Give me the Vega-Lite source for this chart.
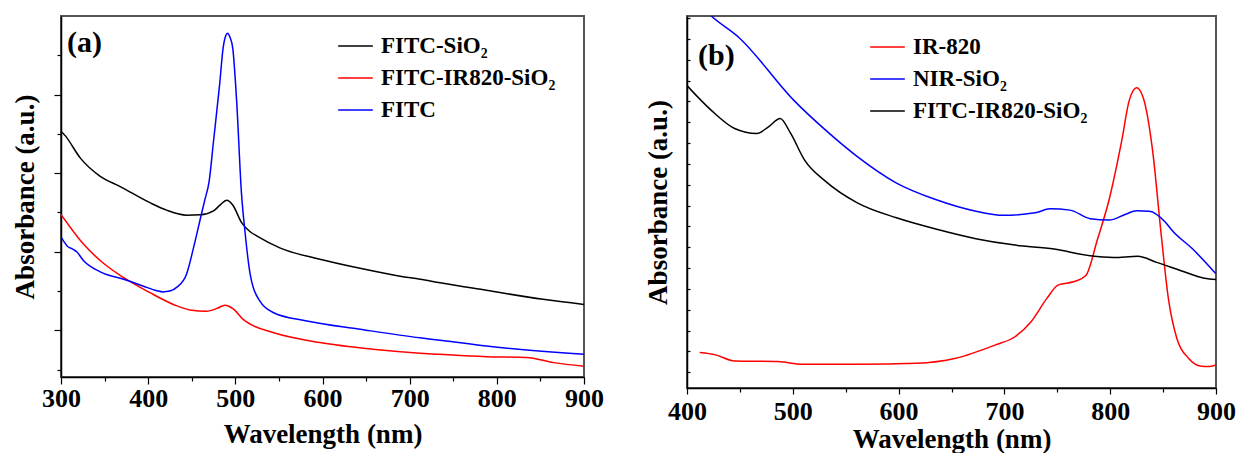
{
  "$schema": "https://vega.github.io/schema/vega-lite/v6.json",
  "background": "white",
  "padding": {"left": 10, "top": 15, "right": 0, "bottom": 0},
  "spacing": 38,
  "config": {
    "font": "Liberation Serif",
    "view": {"stroke": "#555555", "strokeWidth": 2},
    "axis": {
      "grid": false,
      "labelFont": "Liberation Serif", "labelFontWeight": "bold", "labelFontSize": 26, "labelColor": "black",
      "titleFont": "Liberation Serif", "titleFontWeight": "bold", "titleFontSize": 27, "titleColor": "black",
      "domainColor": "black", "domainWidth": 1.5, "tickColor": "black", "tickWidth": 1.2,
      "labelFlush": false, "labelOverlap": false
    },
    "legend": {
      "labelFont": "Liberation Serif", "labelFontWeight": "bold", "labelFontSize": 23, "labelColor": "black",
      "symbolType": "stroke", "symbolSize": 1200, "symbolStrokeWidth": 1.5,
      "clipHeight": 32, "rowPadding": 0, "labelOffset": 7, "padding": 0, "labelLimit": 400
    },
    "title": {"font": "Liberation Serif", "fontWeight": "bold", "fontSize": 30, "color": "black"}
  },
  "datasets": {
    "a": [
      {"wl": 300, "abs": 6.07, "series": "FITC-SiO\u2082"},
      {"wl": 305, "abs": 5.95, "series": "FITC-SiO\u2082"},
      {"wl": 322, "abs": 5.39, "series": "FITC-SiO\u2082"},
      {"wl": 345, "abs": 4.92, "series": "FITC-SiO\u2082"},
      {"wl": 368, "abs": 4.66, "series": "FITC-SiO\u2082"},
      {"wl": 402, "abs": 4.25, "series": "FITC-SiO\u2082"},
      {"wl": 421, "abs": 4.06, "series": "FITC-SiO\u2082"},
      {"wl": 444, "abs": 3.93, "series": "FITC-SiO\u2082"},
      {"wl": 460, "abs": 3.94, "series": "FITC-SiO\u2082"},
      {"wl": 475, "abs": 4.04, "series": "FITC-SiO\u2082"},
      {"wl": 483, "abs": 4.2, "series": "FITC-SiO\u2082"},
      {"wl": 490, "abs": 4.31, "series": "FITC-SiO\u2082"},
      {"wl": 497, "abs": 4.19, "series": "FITC-SiO\u2082"},
      {"wl": 507, "abs": 3.75, "series": "FITC-SiO\u2082"},
      {"wl": 517, "abs": 3.51, "series": "FITC-SiO\u2082"},
      {"wl": 525, "abs": 3.4, "series": "FITC-SiO\u2082"},
      {"wl": 551, "abs": 3.1, "series": "FITC-SiO\u2082"},
      {"wl": 597, "abs": 2.81, "series": "FITC-SiO\u2082"},
      {"wl": 643, "abs": 2.58, "series": "FITC-SiO\u2082"},
      {"wl": 689, "abs": 2.38, "series": "FITC-SiO\u2082"},
      {"wl": 712, "abs": 2.3, "series": "FITC-SiO\u2082"},
      {"wl": 735, "abs": 2.21, "series": "FITC-SiO\u2082"},
      {"wl": 788, "abs": 2.02, "series": "FITC-SiO\u2082"},
      {"wl": 853, "abs": 1.79, "series": "FITC-SiO\u2082"},
      {"wl": 900, "abs": 1.66, "series": "FITC-SiO\u2082"},

      {"wl": 300, "abs": 3.95, "series": "FITC-IR820-SiO\u2082"},
      {"wl": 326, "abs": 3.19, "series": "FITC-IR820-SiO\u2082"},
      {"wl": 348, "abs": 2.72, "series": "FITC-IR820-SiO\u2082"},
      {"wl": 372, "abs": 2.34, "series": "FITC-IR820-SiO\u2082"},
      {"wl": 402, "abs": 1.96, "series": "FITC-IR820-SiO\u2082"},
      {"wl": 429, "abs": 1.66, "series": "FITC-IR820-SiO\u2082"},
      {"wl": 448, "abs": 1.52, "series": "FITC-IR820-SiO\u2082"},
      {"wl": 467, "abs": 1.49, "series": "FITC-IR820-SiO\u2082"},
      {"wl": 479, "abs": 1.56, "series": "FITC-IR820-SiO\u2082"},
      {"wl": 488, "abs": 1.64, "series": "FITC-IR820-SiO\u2082"},
      {"wl": 498, "abs": 1.54, "series": "FITC-IR820-SiO\u2082"},
      {"wl": 509, "abs": 1.28, "series": "FITC-IR820-SiO\u2082"},
      {"wl": 517, "abs": 1.16, "series": "FITC-IR820-SiO\u2082"},
      {"wl": 544, "abs": 0.94, "series": "FITC-IR820-SiO\u2082"},
      {"wl": 597, "abs": 0.69, "series": "FITC-IR820-SiO\u2082"},
      {"wl": 658, "abs": 0.52, "series": "FITC-IR820-SiO\u2082"},
      {"wl": 712, "abs": 0.42, "series": "FITC-IR820-SiO\u2082"},
      {"wl": 735, "abs": 0.39, "series": "FITC-IR820-SiO\u2082"},
      {"wl": 788, "abs": 0.33, "series": "FITC-IR820-SiO\u2082"},
      {"wl": 834, "abs": 0.31, "series": "FITC-IR820-SiO\u2082"},
      {"wl": 865, "abs": 0.18, "series": "FITC-IR820-SiO\u2082"},
      {"wl": 900, "abs": 0.09, "series": "FITC-IR820-SiO\u2082"},

      {"wl": 300, "abs": 3.38, "series": "FITC"},
      {"wl": 307, "abs": 3.15, "series": "FITC"},
      {"wl": 314, "abs": 3.06, "series": "FITC"},
      {"wl": 318, "abs": 3.0, "series": "FITC"},
      {"wl": 326, "abs": 2.77, "series": "FITC"},
      {"wl": 345, "abs": 2.49, "series": "FITC"},
      {"wl": 372, "abs": 2.3, "series": "FITC"},
      {"wl": 394, "abs": 2.13, "series": "FITC"},
      {"wl": 410, "abs": 2.01, "series": "FITC"},
      {"wl": 417, "abs": 1.98, "series": "FITC"},
      {"wl": 425, "abs": 2.0, "series": "FITC"},
      {"wl": 433, "abs": 2.1, "series": "FITC"},
      {"wl": 444, "abs": 2.43, "series": "FITC"},
      {"wl": 452, "abs": 3.1, "series": "FITC"},
      {"wl": 461, "abs": 3.95, "series": "FITC"},
      {"wl": 465, "abs": 4.32, "series": "FITC"},
      {"wl": 470, "abs": 4.8, "series": "FITC"},
      {"wl": 475, "abs": 5.82, "series": "FITC"},
      {"wl": 482, "abs": 7.26, "series": "FITC"},
      {"wl": 486, "abs": 8.19, "series": "FITC"},
      {"wl": 489, "abs": 8.5, "series": "FITC"},
      {"wl": 491, "abs": 8.56, "series": "FITC"},
      {"wl": 494, "abs": 8.45, "series": "FITC"},
      {"wl": 497, "abs": 8.19, "series": "FITC"},
      {"wl": 501.5, "abs": 6.84, "series": "FITC"},
      {"wl": 507, "abs": 4.5, "series": "FITC"},
      {"wl": 511, "abs": 3.53, "series": "FITC"},
      {"wl": 517, "abs": 2.43, "series": "FITC"},
      {"wl": 528, "abs": 1.75, "series": "FITC"},
      {"wl": 544, "abs": 1.45, "series": "FITC"},
      {"wl": 582, "abs": 1.24, "series": "FITC"},
      {"wl": 643, "abs": 1.03, "series": "FITC"},
      {"wl": 712, "abs": 0.81, "series": "FITC"},
      {"wl": 735, "abs": 0.75, "series": "FITC"},
      {"wl": 788, "abs": 0.6, "series": "FITC"},
      {"wl": 900, "abs": 0.39, "series": "FITC"}
    ],
    "b": [
      {"wl": 412, "abs": 1.7, "series": "IR-820"},
      {"wl": 427, "abs": 1.59, "series": "IR-820"},
      {"wl": 445, "abs": 1.3, "series": "IR-820"},
      {"wl": 486, "abs": 1.27, "series": "IR-820"},
      {"wl": 509, "abs": 1.14, "series": "IR-820"},
      {"wl": 561, "abs": 1.14, "series": "IR-820"},
      {"wl": 617, "abs": 1.19, "series": "IR-820"},
      {"wl": 654, "abs": 1.43, "series": "IR-820"},
      {"wl": 691, "abs": 2.06, "series": "IR-820"},
      {"wl": 710, "abs": 2.46, "series": "IR-820"},
      {"wl": 725, "abs": 3.17, "series": "IR-820"},
      {"wl": 740, "abs": 4.29, "series": "IR-820"},
      {"wl": 751, "abs": 4.95, "series": "IR-820"},
      {"wl": 766, "abs": 5.11, "series": "IR-820"},
      {"wl": 777, "abs": 5.4, "series": "IR-820"},
      {"wl": 788, "abs": 7.14, "series": "IR-820"},
      {"wl": 799, "abs": 9.05, "series": "IR-820"},
      {"wl": 811, "abs": 11.9, "series": "IR-820"},
      {"wl": 818, "abs": 13.81, "series": "IR-820"},
      {"wl": 825, "abs": 14.41, "series": "IR-820"},
      {"wl": 831, "abs": 13.97, "series": "IR-820"},
      {"wl": 840, "abs": 11.43, "series": "IR-820"},
      {"wl": 848, "abs": 7.46, "series": "IR-820"},
      {"wl": 855, "abs": 4.29, "series": "IR-820"},
      {"wl": 863, "abs": 2.38, "series": "IR-820"},
      {"wl": 874, "abs": 1.43, "series": "IR-820"},
      {"wl": 885, "abs": 1.06, "series": "IR-820"},
      {"wl": 893, "abs": 1.03, "series": "IR-820"},
      {"wl": 900, "abs": 1.11, "series": "IR-820"},

      {"wl": 400, "abs": 19.1, "series": "NIR-SiO\u2082"},
      {"wl": 423, "abs": 17.86, "series": "NIR-SiO\u2082"},
      {"wl": 449, "abs": 16.83, "series": "NIR-SiO\u2082"},
      {"wl": 501, "abs": 13.81, "series": "NIR-SiO\u2082"},
      {"wl": 531, "abs": 12.38, "series": "NIR-SiO\u2082"},
      {"wl": 561, "abs": 11.11, "series": "NIR-SiO\u2082"},
      {"wl": 598, "abs": 9.84, "series": "NIR-SiO\u2082"},
      {"wl": 635, "abs": 9.05, "series": "NIR-SiO\u2082"},
      {"wl": 673, "abs": 8.49, "series": "NIR-SiO\u2082"},
      {"wl": 699, "abs": 8.29, "series": "NIR-SiO\u2082"},
      {"wl": 729, "abs": 8.41, "series": "NIR-SiO\u2082"},
      {"wl": 743, "abs": 8.6, "series": "NIR-SiO\u2082"},
      {"wl": 762, "abs": 8.54, "series": "NIR-SiO\u2082"},
      {"wl": 781, "abs": 8.13, "series": "NIR-SiO\u2082"},
      {"wl": 799, "abs": 8.06, "series": "NIR-SiO\u2082"},
      {"wl": 814, "abs": 8.33, "series": "NIR-SiO\u2082"},
      {"wl": 825, "abs": 8.51, "series": "NIR-SiO\u2082"},
      {"wl": 837, "abs": 8.49, "series": "NIR-SiO\u2082"},
      {"wl": 852, "abs": 7.97, "series": "NIR-SiO\u2082"},
      {"wl": 859, "abs": 7.54, "series": "NIR-SiO\u2082"},
      {"wl": 878, "abs": 6.67, "series": "NIR-SiO\u2082"},
      {"wl": 900, "abs": 5.48, "series": "NIR-SiO\u2082"},

      {"wl": 400, "abs": 14.52, "series": "FITC-IR820-SiO\u2082"},
      {"wl": 423, "abs": 13.33, "series": "FITC-IR820-SiO\u2082"},
      {"wl": 445, "abs": 12.46, "series": "FITC-IR820-SiO\u2082"},
      {"wl": 466, "abs": 12.22, "series": "FITC-IR820-SiO\u2082"},
      {"wl": 477, "abs": 12.54, "series": "FITC-IR820-SiO\u2082"},
      {"wl": 488, "abs": 12.94, "series": "FITC-IR820-SiO\u2082"},
      {"wl": 498, "abs": 12.22, "series": "FITC-IR820-SiO\u2082"},
      {"wl": 511, "abs": 10.95, "series": "FITC-IR820-SiO\u2082"},
      {"wl": 531, "abs": 9.92, "series": "FITC-IR820-SiO\u2082"},
      {"wl": 561, "abs": 8.89, "series": "FITC-IR820-SiO\u2082"},
      {"wl": 598, "abs": 8.17, "series": "FITC-IR820-SiO\u2082"},
      {"wl": 636, "abs": 7.62, "series": "FITC-IR820-SiO\u2082"},
      {"wl": 673, "abs": 7.17, "series": "FITC-IR820-SiO\u2082"},
      {"wl": 710, "abs": 6.86, "series": "FITC-IR820-SiO\u2082"},
      {"wl": 747, "abs": 6.67, "series": "FITC-IR820-SiO\u2082"},
      {"wl": 781, "abs": 6.35, "series": "FITC-IR820-SiO\u2082"},
      {"wl": 803, "abs": 6.27, "series": "FITC-IR820-SiO\u2082"},
      {"wl": 826, "abs": 6.32, "series": "FITC-IR820-SiO\u2082"},
      {"wl": 844, "abs": 6.03, "series": "FITC-IR820-SiO\u2082"},
      {"wl": 867, "abs": 5.63, "series": "FITC-IR820-SiO\u2082"},
      {"wl": 889, "abs": 5.27, "series": "FITC-IR820-SiO\u2082"},
      {"wl": 900, "abs": 5.21, "series": "FITC-IR820-SiO\u2082"}
    ]
  },
  "hconcat": [
    {
      "width": 523,
      "height": 361,
      "title": {"text": "(a)", "anchor": "start", "frame": "group", "orient": "top", "offset": -42, "dx": 6},
      "data": {"name": "a"},
      "mark": {"type": "line", "strokeWidth": 1.5, "interpolate": "monotone", "clip": true},
      "encoding": {
        "x": {
          "field": "wl", "type": "quantitative",
          "scale": {"domain": [300, 900], "nice": false, "zero": false},
          "axis": {
            "title": "Wavelength (nm)",
            "values": [300, 350, 400, 450, 500, 550, 600, 650, 700, 750, 800, 850, 900],
            "labelExpr": "datum.value % 100 === 0 ? datum.label : ''",
            "tickSize": {"condition": {"test": "datum.value % 100 === 0", "value": 7}, "value": 4},
            "labelPadding": 1, "titlePadding": 10
          }
        },
        "y": {
          "field": "abs", "type": "quantitative",
          "scale": {"domain": [-0.186, 9.0], "nice": false, "zero": false},
          "axis": {
            "title": "Absorbance (a.u.)",
            "values": [0, 1, 2, 3, 4, 5, 6, 7, 8],
            "labels": false,
            "tickSize": {"condition": {"test": "datum.value % 2 === 1", "value": 7}, "value": 4},
            "titlePadding": 14
          }
        },
        "color": {
          "field": "series", "type": "nominal",
          "scale": {"domain": ["FITC-SiO\u2082", "FITC-IR820-SiO\u2082", "FITC"], "range": ["#000000", "#ff0000", "#0000ff"]},
          "legend": {"title": null, "orient": "none", "legendX": 276, "legendY": 14}
        }
      }
    },
    {
      "width": 529,
      "height": 372,
      "title": {"text": "(b)", "anchor": "start", "frame": "group", "orient": "top", "offset": -55, "dx": 11},
      "data": {"name": "b"},
      "mark": {"type": "line", "strokeWidth": 1.5, "interpolate": "monotone", "clip": true},
      "encoding": {
        "x": {
          "field": "wl", "type": "quantitative",
          "scale": {"domain": [400, 900], "nice": false, "zero": false},
          "axis": {
            "title": "Wavelength (nm)",
            "values": [400, 450, 500, 550, 600, 650, 700, 750, 800, 850, 900],
            "labelExpr": "datum.value % 100 === 0 ? datum.label : ''",
            "tickSize": {"condition": {"test": "datum.value % 100 === 0", "value": 6}, "value": 4},
            "labelPadding": 4, "titlePadding": 2
          }
        },
        "y": {
          "field": "abs", "type": "quantitative",
          "scale": {"domain": [0, 17.86], "nice": false, "zero": false},
          "axis": {
            "title": "Absorbance (a.u.)",
            "values": [0.76, 1.76, 2.76, 3.76, 4.76, 5.76, 6.76, 7.76, 8.76, 9.76, 10.76, 11.76, 12.76, 13.76, 14.76, 15.76, 16.76, 17.76],
            "labels": false,
            "tickSize": -3,
            "titlePadding": 14
          }
        },
        "color": {
          "field": "series", "type": "nominal",
          "scale": {"domain": ["IR-820", "NIR-SiO\u2082", "FITC-IR820-SiO\u2082"], "range": ["#ff0000", "#0000ff", "#000000"]},
          "legend": {"title": null, "orient": "none", "legendX": 182, "legendY": 15}
        }
      }
    }
  ],
  "resolve": {"scale": {"color": "independent"}}
}
